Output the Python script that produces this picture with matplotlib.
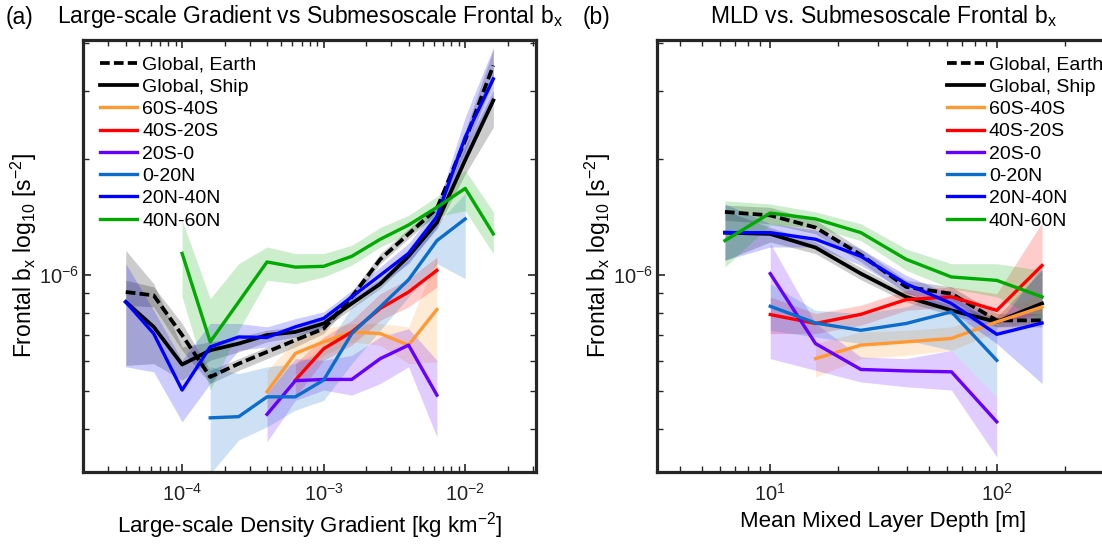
import numpy as np
import matplotlib
matplotlib.use("Agg")
import matplotlib.pyplot as plt
from matplotlib.ticker import LogLocator, NullFormatter

nan = np.nan
plt.rcParams['font.family'] = ['Liberation Sans', 'DejaVu Sans']
plt.rcParams['mathtext.fontset'] = 'custom'
plt.rcParams['mathtext.rm'] = 'Liberation Sans'
plt.rcParams['mathtext.it'] = 'Liberation Sans:italic'
plt.rcParams['mathtext.bf'] = 'Liberation Sans:bold'
plt.rcParams['axes.unicode_minus'] = False
plt.rcParams['lines.scale_dashes'] = False

labels = ['Global, Earth', 'Global, Ship', '60S-40S', '40S-20S', '20S-0', '0-20N', '20N-40N', '40N-60N']
colors = ['#000000', '#000000', '#ff9933', '#ff0000', '#6600ff', '#0a6ccc', '#0000ff', '#00aa00']

# ---------------- Panel (a): large-scale density gradient ----------------
grad_x = [4.0e-5, 6.3e-5, 1.0e-4, 1.58e-4, 2.51e-4, 3.98e-4, 6.31e-4, 1.0e-3,
          1.58e-3, 2.51e-3, 3.98e-3, 6.31e-3, 1.0e-2, 1.58e-2]

a_earth    = [9.05, 8.87, 7.0, 5.45, 5.90, 6.33, 6.79, 7.27, 8.79, 11.0, 12.8, 14.9, 22.4, 35.0]
a_earth_lo = [8.36, 8.28, 6.39, 5.24, 5.67, 6.08, 6.52, 7.06, 8.53, 10.72, 12.45, 14.45, 21.1, 32.0]
a_earth_hi = [9.71, 9.33, 7.50, 5.67, 6.08, 6.52, 6.99, 7.50, 9.05, 11.38, 13.2, 15.3, 23.7, 38.5]

a_ship    = [8.53, 7.35, 5.87, 6.39, 6.65, 7.0, 7.13, 7.5, 8.45, 9.5, 11.2, 13.7, 19.9, 28.4]
a_ship_lo = [5.84, 5.90, 5.35, 6.02, 6.33, 6.72, 6.92, 7.27, 8.20, 9.24, 10.83, 13.2, 18.3, 24.2]
a_ship_hi = [11.6, 9.51, 6.52, 6.72, 6.92, 7.20, 7.35, 7.72, 8.70, 9.80, 11.49, 14.3, 21.5, 30.1]

a_s60    = [nan, nan, nan, nan, nan, 4.99, 6.27, 6.72, 7.13, 7.06, 6.59, 8.15, nan, nan]
a_s60_lo = [nan, nan, nan, nan, nan, 4.38, 5.56, 6.20, 6.72, 6.59, 5.90, 5.96, nan, nan]
a_s60_hi = [nan, nan, nan, nan, nan, 5.67, 6.79, 7.27, 7.50, 7.50, 7.35, 11.16, nan, nan]

a_s40    = [nan, nan, nan, nan, nan, nan, 5.35, 6.45, 7.13, 8.20, 9.05, 10.3, nan, nan]
a_s40_lo = [nan, nan, nan, nan, nan, nan, 4.84, 6.02, 6.59, 7.64, 8.28, 9.33, nan, nan]
a_s40_hi = [nan, nan, nan, nan, nan, nan, 5.90, 6.92, 7.64, 8.96, 9.80, 11.16, nan, nan]

a_s20    = [nan, nan, nan, nan, nan, 4.36, 5.33, 5.37, 5.37, 6.08, 6.59, 4.89, nan, nan]
a_s20_lo = [nan, nan, nan, nan, nan, 3.70, 4.74, 5.04, 4.89, 5.24, 5.79, 3.81, nan, nan]
a_s20_hi = [nan, nan, nan, nan, nan, 4.94, 6.08, 6.02, 6.20, 6.92, 7.27, 6.02, nan, nan]

a_n0    = [nan, nan, nan, 4.27, 4.30, 4.84, 4.84, 5.35, 7.06, 8.28, 9.74, 12.3, 14.0, nan]
a_n0_lo = [nan, nan, nan, 3.06, 3.74, 4.05, 4.47, 4.74, 5.90, 7.20, 8.79, 10.72, 9.80, nan]
a_n0_hi = [nan, nan, nan, 5.79, 5.56, 5.79, 5.90, 6.39, 8.28, 9.51, 10.94, 13.6, 16.3, nan]

a_n20    = [8.53, 7.06, 5.04, 6.52, 6.92, 6.90, 7.35, 7.73, 8.79, 10.0, 11.4, 14.2, 22.8, 32.3]
a_n20_lo = [5.79, 5.62, 4.17, 5.24, 6.39, 6.52, 6.99, 7.35, 8.45, 9.51, 10.72, 13.3, 20.3, 28.4]
a_n20_hi = [10.72, 8.11, 6.02, 7.50, 7.50, 7.35, 7.72, 8.04, 9.14, 10.51, 12.1, 15.0, 25.7, 39.0]

a_n40    = [nan, nan, 11.4, 6.72, 8.53, 10.83, 10.5, 10.55, 11.2, 12.4, 13.5, 15.0, 16.8, 12.8]
a_n40_lo = [nan, nan, 8.79, 5.04, 7.20, 9.71, 9.51, 9.90, 10.62, 11.84, 12.8, 14.2, 14.7, 11.38]
a_n40_hi = [nan, nan, 13.9, 8.70, 10.72, 11.84, 11.38, 11.38, 11.96, 13.3, 14.3, 16.0, 18.7, 14.6]

# ---------------- Panel (b): mixed layer depth ----------------
mld_x = [6.31, 10.0, 15.85, 25.12, 39.81, 63.1, 100.0, 158.5]

b_earth    = [14.6, 14.3, 13.3, 11.3, 9.33, 8.96, 7.64, 7.64]
b_earth_lo = [13.9, 13.6, 12.8, 10.83, 8.96, 8.61, 7.35, 7.35]
b_earth_hi = [15.2, 15.0, 13.9, 11.7, 9.71, 9.33, 7.96, 7.96]

b_ship    = [12.9, 12.8, 11.8, 10.1, 8.79, 8.11, 7.57, 8.45]
b_ship_lo = [10.94, 12.2, 11.38, 9.74, 8.53, 7.88, 7.35, 7.50]
b_ship_hi = [14.7, 13.3, 12.2, 10.47, 9.05, 8.36, 7.80, 10.3]

b_s60    = [nan, nan, 6.08, 6.59, 6.72, 6.86, 7.57, 8.28]
b_s60_lo = [nan, nan, 5.45, 6.08, 6.20, 6.39, 7.13, 7.64]
b_s60_hi = [nan, nan, 6.65, 7.13, 7.20, 7.35, 8.04, 8.96]

b_s40    = [nan, 7.91, 7.50, 7.92, 8.65, 8.79, 8.11, 10.6]
b_s40_lo = [nan, 7.06, 7.06, 7.42, 8.11, 8.28, 7.50, 7.96]
b_s40_hi = [nan, 8.79, 7.96, 8.36, 9.14, 9.33, 8.96, 13.7]

b_s20    = [nan, 10.1, 6.65, 5.70, 5.65, 5.62, 4.17, nan]
b_s20_lo = [nan, 6.08, 5.67, 5.29, 5.14, 5.04, 3.38, nan]
b_s20_hi = [nan, 12.1, 7.50, 6.14, 6.08, 6.39, 4.84, nan]

b_n0    = [nan, 8.31, 7.52, 7.20, 7.50, 8.04, 6.02, nan]
b_n0_lo = [nan, 7.20, 6.92, 6.65, 6.79, 6.39, 4.84, nan]
b_n0_hi = [nan, 9.51, 8.11, 7.96, 8.28, 9.14, 7.64, nan]

b_n20    = [12.9, 12.9, 12.4, 11.2, 9.50, 8.45, 7.03, 7.52]
b_n20_lo = [10.94, 11.84, 11.84, 10.62, 9.05, 8.04, 6.65, 5.24]
b_n20_hi = [15.3, 13.6, 13.1, 11.7, 10.0, 8.88, 7.42, 10.51]

b_n40    = [12.3, 14.5, 14.0, 12.9, 11.0, 9.9, 9.7, 8.79]
b_n40_lo = [10.51, 13.5, 13.3, 12.3, 10.3, 9.24, 8.79, 7.64]
b_n40_hi = [15.6, 15.3, 14.6, 13.6, 11.7, 10.72, 10.72, 10.3]

UNIT = 1e-7  # values above are in units of 1e-7 s^-2

series_a = [(a_earth, a_earth_lo, a_earth_hi), (a_ship, a_ship_lo, a_ship_hi),
            (a_s60, a_s60_lo, a_s60_hi), (a_s40, a_s40_lo, a_s40_hi),
            (a_s20, a_s20_lo, a_s20_hi), (a_n0, a_n0_lo, a_n0_hi),
            (a_n20, a_n20_lo, a_n20_hi), (a_n40, a_n40_lo, a_n40_hi)]
series_b = [(b_earth, b_earth_lo, b_earth_hi), (b_ship, b_ship_lo, b_ship_hi),
            (b_s60, b_s60_lo, b_s60_hi), (b_s40, b_s40_lo, b_s40_hi),
            (b_s20, b_s20_lo, b_s20_hi), (b_n0, b_n0_lo, b_n0_hi),
            (b_n20, b_n20_lo, b_n20_hi), (b_n40, b_n40_lo, b_n40_hi)]

W, H = 1102, 544
fig = plt.figure(figsize=(W / 100, H / 100), dpi=100)
axw, axh = 453 / W, 432 / H
ax1 = fig.add_axes([83 / W, 1 - 472 / H, axw, axh])
ax2 = fig.add_axes([657 / W, 1 - 472 / H, axw, axh])

spine_c = '#262626'


def draw(ax, x, series):
    x = np.asarray(x)
    handles = []
    for i, (v, lo, hi) in enumerate(series):
        v = np.asarray(v) * UNIT
        lo = np.asarray(lo) * UNIT
        hi = np.asarray(hi) * UNIT
        c = colors[i]
        ax.fill_between(x, lo, hi, color=c, alpha=0.2, lw=0, zorder=1)
        if i == 0:
            ln, = ax.plot(x, v, color=c, lw=2.7, dashes=(7, 3), zorder=3)
        else:
            ln, = ax.plot(x, v, color=c, lw=2.4 if i > 1 else 2.7, zorder=3)
        handles.append(ln)
    return handles


def style(ax, xlim):
    ax.set_xscale('log')
    ax.set_yscale('log')
    ax.set_xlim(*xlim)
    ax.set_ylim(10 ** -6.51, 10 ** -5.39)
    for s in ax.spines.values():
        s.set_linewidth(2.3)
        s.set_color(spine_c)
    ax.tick_params(which='both', direction='in', top=True, right=True,
                   colors=spine_c, labelcolor='#222222', labelsize=14.5)
    ax.tick_params(which='major', length=6, width=1.2, pad=8)
    ax.tick_params(which='minor', length=4, width=1.0)
    ax.tick_params(axis='y', which='major', pad=3)
    ax.xaxis.set_major_locator(LogLocator(base=10, numticks=20))
    ax.xaxis.set_minor_locator(LogLocator(base=10, subs=np.arange(2, 10), numticks=40))
    ax.xaxis.set_minor_formatter(NullFormatter())
    ax.yaxis.set_major_locator(LogLocator(base=10, numticks=20))
    ax.yaxis.set_minor_locator(LogLocator(base=10, subs=np.arange(2, 10), numticks=40))
    ax.yaxis.set_minor_formatter(NullFormatter())
    ax.set_ylabel(r'Frontal b$_{\rm x}$ log$_{10}$ [s$^{{-}2}$]', fontsize=16.5, labelpad=0)


h1 = draw(ax1, grad_x, series_a)
h2 = draw(ax2, mld_x, series_b)
style(ax1, (10 ** -4.7, 10 ** -1.5))
style(ax2, (10 ** 0.5, 10 ** 2.5))

ax1.set_xlabel(r'Large-scale Density Gradient [kg km$^{{-}2}$]', fontsize=16, labelpad=4)
ax2.set_xlabel('Mean Mixed Layer Depth [m]', fontsize=16, labelpad=4)

ax1.set_title(r'Large-scale Gradient vs Submesoscale Frontal b$_{\rm x}$', fontsize=16.5, pad=12)
ax2.set_title(r'MLD vs. Submesoscale Frontal b$_{\rm x}$', fontsize=16.5, pad=12)
fig.text(6 / W, 1 - 24 / H, '(a)', fontsize=16.5, va='baseline', ha='left')
fig.text(583 / W, 1 - 24 / H, '(b)', fontsize=16.5, va='baseline', ha='left')

leg_kw = dict(frameon=False, fontsize=14, handlelength=1.9, handletextpad=0.25,
              labelspacing=0.24, borderaxespad=0.0, borderpad=0.2)
ax1.legend(h1, labels, loc='upper left', bbox_to_anchor=(0.03, 0.972), **leg_kw)
ax2.legend(h2, labels, loc='upper left', bbox_to_anchor=(0.632, 0.972), **leg_kw)

fig.savefig('out.png', dpi=100)
